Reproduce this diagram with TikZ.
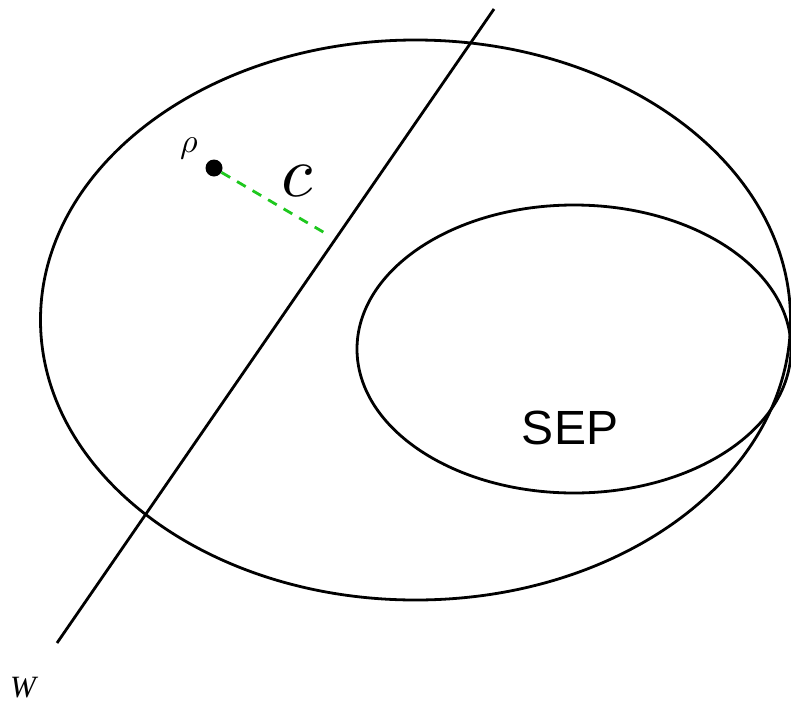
\documentclass[tikz,border=0pt]{standalone}
\usepackage{fontspec}
\setsansfont{Liberation Sans}
\newfontfamily\timesfont{Liberation Serif}
\usepackage{tikz}
\usetikzlibrary{
	positioning,
	calc
}
\definecolor{distgreen}{RGB}{30,200,30}

\begin{document}
\begin{tikzpicture}[
				x=1pt, y=-1pt,
				curve/.style={
					draw,
					line width=2.8pt
				},
				dist/.style={
					distgreen,
					dashed,
					dash pattern=on 10pt off 8pt,
					line width=2.8pt
				},
				dot/.style={
					circle,
					fill,
					inner sep=0pt,
					minimum size=17pt
				}
				]
				
				\useasboundingbox (0,0) rectangle (791,704);
				
				% outer set and SEP
				\draw[curve] (415.5,320) ellipse [x radius=375, y radius=280];
				\draw[curve] (574,349) ellipse [x radius=217, y radius=144];
				
				% witness line
				\coordinate (wlow) at (57,643);
				\coordinate (whigh) at (494,9);
				\draw[curve] (wlow) -- (whigh);
				
				\node[dot] (rho) at (214,168) {};
				\coordinate (foot) at (330,236);
				\draw[dist] (rho) -- (foot);
				
				\node (rholab) at (189,148) {\scalebox{3.4}{$\rho$}};
				\node (clab) at (297,181) {\scalebox{7.2}{$c$}};
				\node[inner sep=0pt, anchor=base, font=\timesfont\itshape\fontsize{31}{34}\selectfont] (wlab) at (23,697) {\smash{W}};
				\node[font=\sffamily\fontsize{48}{52}\selectfont] (sep) at (570,428) {SEP};
				
			\end{tikzpicture}
\end{document}
